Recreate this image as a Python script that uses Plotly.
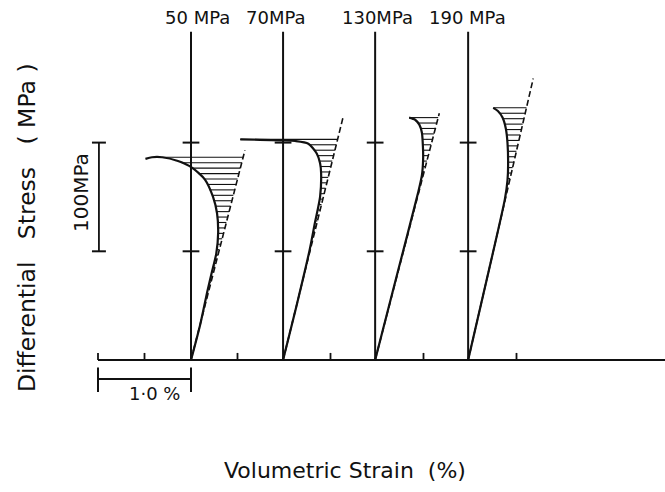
import numpy as np
import plotly.graph_objects as go

# ---------------- data ----------------
pressure_labels = ["50 MPa", "70MPa", "130MPa", "190 MPa"]
origin_offsets = [1.0, 1.99, 2.98, 3.98]          # strain (%) where each curve starts

# volumetric strain (%) relative to each origin, and differential stress (MPa)
strain_50 = [0.0, 0.10, 0.178, 0.222, 0.272, 0.292, 0.28, 0.237, 0.15, 0.01, -0.14, -0.31, -0.42, -0.49]
stress_50 = [0, 33, 64, 80, 98, 117, 135, 150, 166, 177, 183, 186.5, 186.5, 185]

strain_70 = [0.0, 0.145, 0.285, 0.342, 0.398, 0.409, 0.398, 0.362, 0.272, 0.13, 0.0, -0.25, -0.46]
stress_70 = [0, 50, 101, 126, 150, 172, 181, 190, 199, 201.5, 202, 202.5, 203]

strain_130 = [0.0, 0.24, 0.465, 0.503, 0.516, 0.514, 0.503, 0.475, 0.43, 0.366]
stress_130 = [0, 80, 155, 170, 185, 196, 209, 216.5, 221, 223]

strain_190 = [0.0, 0.2, 0.395, 0.423, 0.43, 0.423, 0.405, 0.37, 0.32, 0.27]
stress_190 = [0, 74, 148, 165, 180, 200, 213, 223, 229, 232]

# end points of the dashed linear extrapolations
dash_strain = [0.58, 0.65, 0.69, 0.70]
dash_stress = [193, 225, 227, 259]

base_ticks = [0.0, 0.5, 1.5, 2.5, 3.5, 4.5]   # strain (%) ticks on the baseline
stress_ticks = [100, 200]                      # MPa ticks on each vertical axis
axis_top = 302                                 # MPa, top of the vertical axes
hatch_step = 5                                 # MPa between hatch lines

curves = [(strain_50, stress_50), (strain_70, stress_70),
          (strain_130, stress_130), (strain_190, stress_190)]

# ---------------- figure ----------------
PX_X = 93.0      # px per 1 % strain
PX_Y = 1.087     # px per 1 MPa
X0_PX, Y0_PX = 98.0, 360.0
W, H = 665, 492

fig = go.Figure()
BLACK = "#111111"


def add_line(xs, ys, width=2.0, dash=None, color=BLACK, shape="linear"):
    fig.add_trace(go.Scatter(x=xs, y=ys, mode="lines",
                             line=dict(color=color, width=width, dash=dash, shape=shape,
                                       smoothing=0.7 if shape == "spline" else None),
                             hoverinfo="skip", showlegend=False))


# baseline and its ticks
add_line([0.0, 6.2], [0, 0], 2)
tx, ty = [], []
for t in base_ticks:
    tx += [t, t, None]
    ty += [0, 6.5, None]
add_line(tx, ty, 1.8)

# vertical axes with ticks
for off in origin_offsets:
    add_line([off, off], [0, axis_top], 2)
    hx, hy = [], []
    for s in stress_ticks:
        hx += [off - 0.09, off + 0.09, None]
        hy += [s, s, None]
    add_line(hx, hy, 2)

# curves, dashed extrapolation, hatching
for (sx, sy), off, dx, dy in zip(curves, origin_offsets, dash_strain, dash_stress):
    sx = np.array(sx, float)
    sy = np.array(sy, float)
    slope = dx / dy
    k = int(np.argmax(sy))
    peak = sy[k]
    hx, hy = [], []
    s = peak
    while s > 0:
        solid = np.interp(s, sy[:k + 1], sx[:k + 1])
        dash_x = slope * s
        if dash_x - solid < 0.008:
            break
        hx += [off + solid, off + dash_x, None]
        hy += [s, s, None]
        s -= hatch_step
    add_line(hx, hy, 1.1)
    add_line([off, off + dx], [0, dy], 1.6, dash="6px,3px")
    add_line(list(off + sx), list(sy), 2.2, shape="spline")

# scale bars
add_line([0, 1.0], [-17.5, -17.5], 1.8)
add_line([0, 0, None, 1.0, 1.0], [-7, -29.5, None, -7, -29.5], 2)
add_line([0.01, 0.01], [100, 200], 1.8)
add_line([-0.065, 0.085, None, -0.065, 0.085], [100, 100, None, 200, 200], 2)


def px2x(px):
    return (px - X0_PX) / PX_X


def py2y(py):
    return (Y0_PX - py) / PX_Y


FONT = "DejaVu Sans"
ann = []
label_px = [197, 276, 377, 467]
for lab, px in zip(pressure_labels, label_px):
    ann.append(dict(x=px2x(px), y=py2y(17), text=lab, showarrow=False,
                    font=dict(family=FONT, size=18, color=BLACK),
                    xanchor="center", yanchor="middle"))
ann.append(dict(x=px2x(154), y=py2y(393), text="1·0 %", showarrow=False,
                font=dict(family=FONT, size=18, color=BLACK),
                xanchor="center", yanchor="middle"))
ann.append(dict(x=px2x(81), y=py2y(193), text="100MPa", showarrow=False, textangle=-90,
                font=dict(family=FONT, size=20, color=BLACK),
                xanchor="center", yanchor="middle"))
ann.append(dict(x=px2x(27), y=py2y(228),
                text="Differential\u00a0\u00a0 Stress\u00a0\u00a0 (\u00a0MPa\u00a0)",
                showarrow=False, textangle=-90,
                font=dict(family=FONT, size=23.5, color=BLACK),
                xanchor="center", yanchor="middle"))
ann.append(dict(x=px2x(345), y=py2y(470), text="Volumetric Strain\u00a0\u00a0(%)",
                showarrow=False,
                font=dict(family=FONT, size=22, color=BLACK),
                xanchor="center", yanchor="middle"))

fig.update_layout(
    width=W, height=H, autosize=False,
    margin=dict(l=0, r=0, t=0, b=0, pad=0),
    paper_bgcolor="white", plot_bgcolor="white",
    xaxis=dict(range=[px2x(0), px2x(W)], visible=False, fixedrange=True),
    yaxis=dict(range=[py2y(H), py2y(0)], visible=False, fixedrange=True),
    annotations=ann,
)

fig.write_html("out.html")
